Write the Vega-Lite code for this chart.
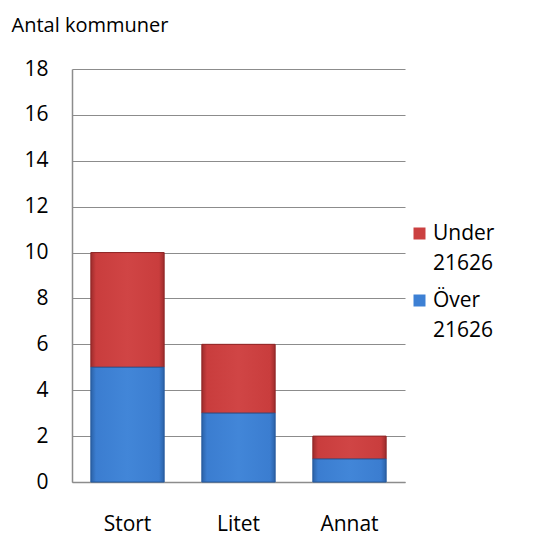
{
  "$schema": "https://vega.github.io/schema/vega-lite/v6.json",
  "width": 333,
  "height": 413,
  "autosize": "none",
  "padding": {"left": 72, "top": 69, "right": 139, "bottom": 54},
  "background": "white",
  "config": {
    "font": "Open Sans",
    "view": {"stroke": null},
    "style": {"guide-label": {"lineHeight": 30}},
    "axis": {"labelFont": "Open Sans", "titleFont": "Open Sans", "labelColor": "#000", "titleColor": "#000"}
  },
  "data": {
    "values": [
      {"kategori": "Stort", "grupp": "Över 21626", "antal": 5},
      {"kategori": "Stort", "grupp": "Under 21626", "antal": 5},
      {"kategori": "Litet", "grupp": "Över 21626", "antal": 3},
      {"kategori": "Litet", "grupp": "Under 21626", "antal": 3},
      {"kategori": "Annat", "grupp": "Över 21626", "antal": 1},
      {"kategori": "Annat", "grupp": "Under 21626", "antal": 1}
    ]
  },
  "transform": [
    {"stack": "antal", "groupby": ["kategori"], "sort": [{"field": "grupp", "order": "descending"}], "as": ["lo", "hi"]}
  ],
  "encoding": {
    "x": {
      "field": "kategori", "type": "nominal", "sort": ["Stort", "Litet", "Annat"],
      "scale": {"paddingInner": 0.34, "paddingOuter": 0.17},
      "axis": {"title": null, "labelAngle": 0, "labelFontSize": 21, "labelPadding": 31, "ticks": false, "domainColor": "#8c8c8c", "domainWidth": 1.5}
    },
    "y": {
      "field": "lo", "type": "quantitative",
      "scale": {"domain": [0, 18]},
      "axis": {
        "values": [0, 2, 4, 6, 8, 10, 12, 14, 16, 18],
        "title": "Antal kommuner", "titleAngle": 0, "titleAlign": "left", "titleBaseline": "alphabetic",
        "titleX": -61, "titleY": -38, "titleFontSize": 20, "titleFontWeight": "normal",
        "labelFontSize": 21, "labelPadding": 24, "ticks": false,
        "grid": true, "gridColor": "#8c8c8c", "gridWidth": 1.2,
        "domainColor": "#8c8c8c", "domainWidth": 1.5
      }
    },
    "y2": {"field": "hi"}
  },
  "layer": [
    {
      "mark": {"type": "bar"},
      "encoding": {
        "color": {
          "field": "grupp", "type": "nominal",
          "scale": {"domain": ["Under 21626", "Över 21626"], "range": ["#CB4040", "#3D80D4"]},
          "legend": {
            "title": null, "orient": "none", "legendX": 337, "legendY": 154,
            "symbolType": "square", "symbolSize": 144, "symbolStrokeWidth": 0,
            "labelFont": "Open Sans", "labelFontSize": 21, "labelColor": "#000",
            "labelExpr": "split(datum.label, ' ')", "labelLimit": 200,
            "rowPadding": 15, "labelOffset": 3
          }
        }
      }
    },
    {
      "transform": [{"filter": "datum.grupp === 'Under 21626'"}],
      "mark": {
        "type": "bar", "stroke": "#8e2626", "strokeWidth": 1,
        "fill": {"gradient": "linear", "x1": 0, "y1": 0, "x2": 1, "y2": 0, "stops": [
          {"offset": 0, "color": "#9e2c2c"}, {"offset": 0.07, "color": "#c93d3d"},
          {"offset": 0.5, "color": "#d04545"}, {"offset": 0.93, "color": "#c93d3d"}, {"offset": 1, "color": "#9e2c2c"}]}
      }
    },
    {
      "transform": [{"filter": "datum.grupp === 'Över 21626'"}],
      "mark": {
        "type": "bar", "stroke": "#275a9c", "strokeWidth": 1,
        "fill": {"gradient": "linear", "x1": 0, "y1": 0, "x2": 1, "y2": 0, "stops": [
          {"offset": 0, "color": "#2b62a8"}, {"offset": 0.07, "color": "#3b7dd0"},
          {"offset": 0.5, "color": "#4286d8"}, {"offset": 0.93, "color": "#3b7dd0"}, {"offset": 1, "color": "#2b62a8"}]}
      }
    }
  ]
}
